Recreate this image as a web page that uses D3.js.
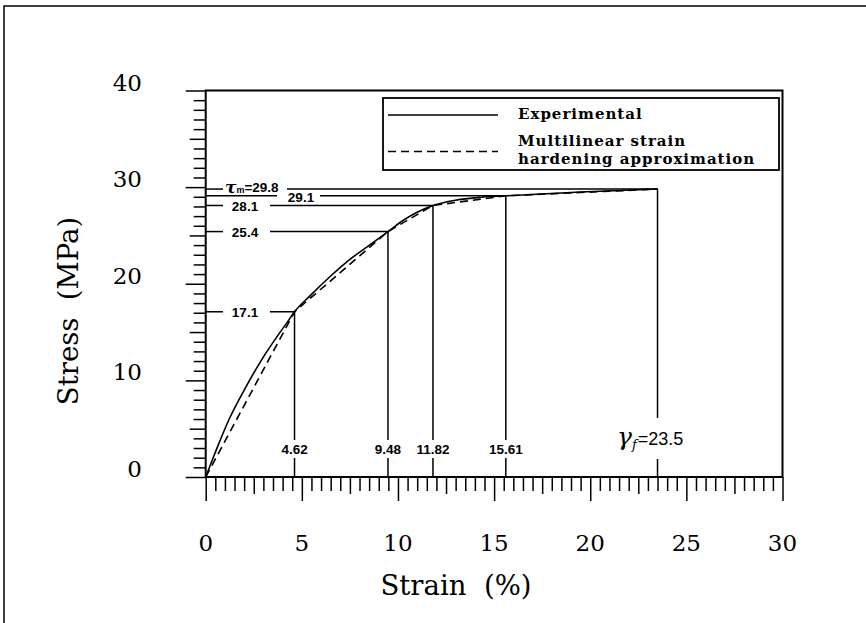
<!DOCTYPE html>
<html>
<head>
<meta charset="utf-8">
<title>Stress-strain: experimental vs multilinear</title>
<style>
body {
  margin: 0;
  background: #fff;
}

svg {
  display: block;
}

.frame, .axis-line, .tick, .ann-line, .legend-box {
  stroke: #000;
  fill: none;
}

.tick-label, .title {
  font-family: "DejaVu Serif", serif;
  fill: #000;
}

.tick-label { font-size: 23px; }
.title { font-size: 27.5px; }

.ann {
  font: bold 13.5px "Liberation Sans", Arial, sans-serif;
  fill: #000;
}

.legend-text {
  font: bold 15px "DejaVu Serif", serif;
  letter-spacing: 1px;
  fill: #000;
}
</style>
<script src="https://d3js.org/d3.v7.min.js"></script>
</head>
<body>
<script>
// experimental curve
const expStrain = [0, 0.48, 1.2, 2.1, 2.9, 3.7, 4.2, 4.62, 5.45, 6.5, 7.55, 8.45, 9.48, 10.3, 11.0, 11.82, 13.0, 14.3, 15.61, 19.5, 23.5];
const expStress = [0, 2.45, 5.9, 9.35, 12.1, 14.5, 15.9, 17.1, 18.8, 20.8, 22.6, 23.9, 25.4, 26.6, 27.4, 28.1, 28.65, 28.95, 29.1, 29.5, 29.8];

// multilinear approximation knots
const knotStrain = [0, 4.62, 9.48, 11.82, 15.61, 23.5];
const knotStress = [0, 17.1, 25.4, 28.1, 29.1, 29.8];

const xTickValues = [0, 5, 10, 15, 20, 25, 30];
const yTickValues = [0, 10, 20, 30, 40];

const legendLabels = ['Experimental', 'Multilinear strain', 'hardening approximation'];

const width = 866,
  height = 623;

const x = d3.scaleLinear().domain([0, 30]).range([205.7, 782.5]);
const y = d3.scaleLinear().domain([0, 40]).range([477, 90.5]);

const svg = d3.select('body').append('svg')
  .attr('width', width)
  .attr('height', height);

// outer frame (only left & top edges show in the scan)
svg.append('path')
  .attr('class', 'frame')
  .attr('stroke-width', 1.5)
  .attr('d', 'M4,' + height + 'V6H' + width);

// plot box
svg.append('rect')
  .attr('class', 'axis-line')
  .attr('stroke-width', 2)
  .attr('x', x(0))
  .attr('y', y(40))
  .attr('width', x(30) - x(0))
  .attr('height', y(0) - y(40));

// x ticks every 0.5, longer at 2.5 and 5
const xAxis = svg.append('g')
  .attr('transform', 'translate(0,' + y(0) + ')')
  .call(d3.axisBottom(x).tickValues(d3.range(0, 30.01, 0.5)).tickFormat('').tickSizeOuter(0));
xAxis.select('.domain').remove();
xAxis.selectAll('.tick line')
  .attr('stroke', '#000')
  .attr('stroke-width', 1.5)
  .attr('y2', d => (d % 5 === 0 ? 24 : d % 2.5 === 0 ? 17 : 14));

xAxis.selectAll('.tick-lbl')
  .data(xTickValues)
  .enter().append('text')
  .attr('class', 'tick-label')
  .attr('x', d => x(d))
  .attr('y', 66)
  .attr('text-anchor', 'middle')
  .attr('dominant-baseline', 'central')
  .text(d => d);

// y ticks every 1, longer at 5 and 10
const yAxis = svg.append('g')
  .attr('transform', 'translate(' + x(0) + ',0)')
  .call(d3.axisLeft(y).tickValues(d3.range(0, 40.01, 1)).tickFormat('').tickSizeOuter(0));
yAxis.select('.domain').remove();
yAxis.selectAll('.tick line')
  .attr('stroke', '#000')
  .attr('stroke-width', 1.5)
  .attr('x2', d => (d % 10 === 0 ? -20 : d % 5 === 0 ? -16 : -12));

svg.append('g').selectAll('text')
  .data(yTickValues)
  .enter().append('text')
  .attr('class', 'tick-label')
  .attr('x', 142)
  .attr('y', d => y(d) - 8)
  .attr('text-anchor', 'end')
  .attr('dominant-baseline', 'central')
  .text(d => d);

// axis titles (double gap as in the original)
svg.append('text')
  .attr('class', 'title')
  .attr('x', 456)
  .attr('y', 585)
  .attr('text-anchor', 'middle')
  .attr('dominant-baseline', 'central')
  .text('Strain\u00a0\u00a0(%)');

svg.append('text')
  .attr('class', 'title')
  .attr('transform', 'translate(68,311) rotate(-90)')
  .attr('text-anchor', 'middle')
  .attr('dominant-baseline', 'central')
  .text('Stress\u00a0\u00a0(MPa)');

// annotation lines
const ann = svg.append('g');
function seg(x1, y1, x2, y2) {
  ann.append('line')
    .attr('class', 'ann-line')
    .attr('stroke-width', 1.5)
    .attr('x1', x1).attr('y1', y1)
    .attr('x2', x2).attr('y2', y2);
}
function label(tx, ty, str, anchor) {
  ann.append('text')
    .attr('class', 'ann')
    .attr('x', tx).attr('y', ty)
    .attr('text-anchor', anchor || 'middle')
    .attr('dominant-baseline', 'central')
    .text(str);
}

// stress levels 17.1, 25.4, 28.1
[1, 2, 3].forEach(i => {
  const yy = y(knotStress[i]);
  seg(x(0), yy, 223, yy);
  label(245, yy + 1, knotStress[i]);
  seg(270, yy, x(knotStrain[i]), yy);
});

// 29.1
const y291 = y(knotStress[4]);
seg(x(0), y291, 277, y291);
label(301, y291 + 2, knotStress[4]);
seg(320, y291, x(knotStrain[4]), y291);

// tau_m = 29.8
const y298 = y(knotStress[5]);
seg(x(0), y298, 223, y298);
const tau = ann.append('text')
  .attr('class', 'ann')
  .attr('x', 225)
  .attr('y', y298 - 2)
  .attr('dominant-baseline', 'central');
tau.append('tspan')
  .style('font', 'italic bold 17px "DejaVu Serif", serif')
  .text('τ');
tau.append('tspan')
  .attr('dy', 3)
  .style('font-size', '9px')
  .text('m');
tau.append('tspan')
  .attr('dy', -3)
  .text('=' + knotStress[5]);
seg(287, y298, x(knotStrain[5]), y298);

// vertical drops at knot strains
[1, 2, 3, 4].forEach(i => {
  const xx = x(knotStrain[i]);
  seg(xx, y(knotStress[i]), xx, 440);
  label(xx, 449, knotStrain[i].toFixed(2));
  seg(xx, 458, xx, y(0));
});

// gamma_f = 23.5
const xf = x(knotStrain[5]);
seg(xf, y298, xf, 418);
seg(xf, 459, xf, y(0));
const gam = ann.append('text')
  .attr('x', 617)
  .attr('y', 445)
  .style('fill', '#000');
gam.append('tspan')
  .style('font', 'italic 25px "DejaVu Serif", serif')
  .text('γ');
gam.append('tspan')
  .attr('dy', 4)
  .style('font', 'italic 13px "DejaVu Serif", serif')
  .text('f');
gam.append('tspan')
  .attr('dy', -4)
  .attr('dx', 1)
  .style('font', '18px "Liberation Sans", Arial, sans-serif')
  .text('=' + knotStrain[5]);

// curves
const expData = expStrain.map((s, i) => [s, expStress[i]]);
const knotData = knotStrain.map((s, i) => [s, knotStress[i]]);

svg.append('path')
  .datum(expData)
  .attr('fill', 'none')
  .attr('stroke', '#000')
  .attr('stroke-width', 1.6)
  .attr('d', d3.line().x(d => x(d[0])).y(d => y(d[1])).curve(d3.curveMonotoneX));

svg.append('path')
  .datum(knotData)
  .attr('fill', 'none')
  .attr('stroke', '#000')
  .attr('stroke-width', 1.6)
  .attr('stroke-dasharray', '8,5')
  .attr('d', d3.line().x(d => x(d[0])).y(d => y(d[1])));

// legend
const legend = svg.append('g');
legend.append('rect')
  .attr('class', 'legend-box')
  .attr('stroke-width', 1.8)
  .attr('x', 383).attr('y', 98)
  .attr('width', 396).attr('height', 72);
legend.append('line')
  .attr('stroke', '#000').attr('stroke-width', 1.6)
  .attr('x1', 388).attr('x2', 498)
  .attr('y1', 115).attr('y2', 115);
legend.append('line')
  .attr('stroke', '#000').attr('stroke-width', 1.6)
  .attr('stroke-dasharray', '8,5')
  .attr('x1', 388).attr('x2', 498)
  .attr('y1', 151.5).attr('y2', 151.5);
legend.selectAll('text')
  .data(legendLabels)
  .enter().append('text')
  .attr('class', 'legend-text')
  .attr('x', 518)
  .attr('y', (d, i) => [114, 141, 158.5][i])
  .attr('dominant-baseline', 'central')
  .text(d => d);
</script>
</body>
</html>
